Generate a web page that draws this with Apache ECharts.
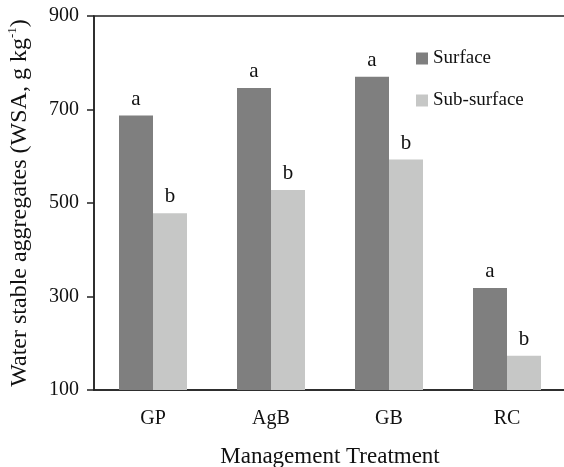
<!DOCTYPE html>
<html>
<head>
<meta charset="utf-8">
<script src="https://cdn.jsdelivr.net/npm/echarts@6/dist/echarts.min.js"></script>
<style>html,body{margin:0;padding:0;background:#fff}#main{width:564px;height:467px}</style>
</head>
<body>
<div id="main"></div>
<script>
var categories = ['GP', 'AgB', 'GB', 'RC'];
var surface = [687, 746, 770, 318];
var subSurface = [478, 528, 593, 173];
var surfaceLetters = ['a', 'a', 'a', 'a'];
var subLetters = ['b', 'b', 'b', 'b'];
var yTicks = [100, 300, 500, 700, 900];

var font = 'Liberation Serif';
var chart = echarts.init(document.getElementById('main'));

var letterLabel = function(letters){
    return {
        show: true,
        position: 'top',
        distance: 6,
        fontFamily: font,
        fontSize: 21,
        color: '#111',
        formatter: function(p){ return letters[p.dataIndex]; }
    };
};

var option = {
    animation: false,
    grid: {
        left: 94, top: 16, bottom: 77, right: -2,
        outerBoundsMode: 'none',
        containLabel: false,
        show: true, borderColor: '#222', borderWidth: 1.5
    },
    legend: {
        orient: 'vertical',
        left: 416, top: 49,
        padding: 0,
        icon: 'rect',
        itemWidth: 12, itemHeight: 12, itemGap: 23,
        textStyle: {fontFamily: font, fontSize: 19, color: '#111'},
        data: ['Surface', 'Sub-surface']
    },
    xAxis: {
        type: 'category',
        data: categories,
        name: 'Management Treatment',
        nameLocation: 'middle',
        nameGap: 55,
        nameTextStyle: {fontFamily: font, fontSize: 23, color: '#111'},
        axisLine: {lineStyle: {color: '#222', width: 1.5}},
        axisTick: {length: 7, lineStyle: {color: '#222', width: 1.5}},
        axisLabel: {fontFamily: font, fontSize: 20, color: '#111', margin: 19}
    },
    yAxis: {
        type: 'value',
        min: yTicks[0], max: yTicks[yTicks.length - 1], interval: 200,
        name: '{a|Water stable aggregates (WSA, g kg}{s|-1}{a|)}',
        nameLocation: 'middle',
        nameGap: 61,
        nameTextStyle: {
            rich: {
                a: {fontFamily: font, fontSize: 24, color: '#111', lineHeight: 27},
                s: {fontFamily: font, fontSize: 13, color: '#111', lineHeight: 27, verticalAlign: 'top', padding: [0, 0, 12, 0]}
            }
        },
        axisLine: {show: true, lineStyle: {color: '#222', width: 1.5}},
        axisTick: {show: true, length: 7, lineStyle: {color: '#222', width: 1.5}},
        axisLabel: {fontFamily: font, fontSize: 20, color: '#111', margin: 15},
        splitLine: {show: false}
    },
    series: [
        {
            name: 'Surface', type: 'bar', data: surface,
            barWidth: 34, barGap: '0%',
            itemStyle: {color: '#7f7f7f'},
            label: letterLabel(surfaceLetters)
        },
        {
            name: 'Sub-surface', type: 'bar', data: subSurface,
            barWidth: 34, barGap: '0%',
            itemStyle: {color: '#c6c7c6'},
            label: letterLabel(subLetters)
        }
    ]
};
chart.setOption(option);
</script>
</body>
</html>
